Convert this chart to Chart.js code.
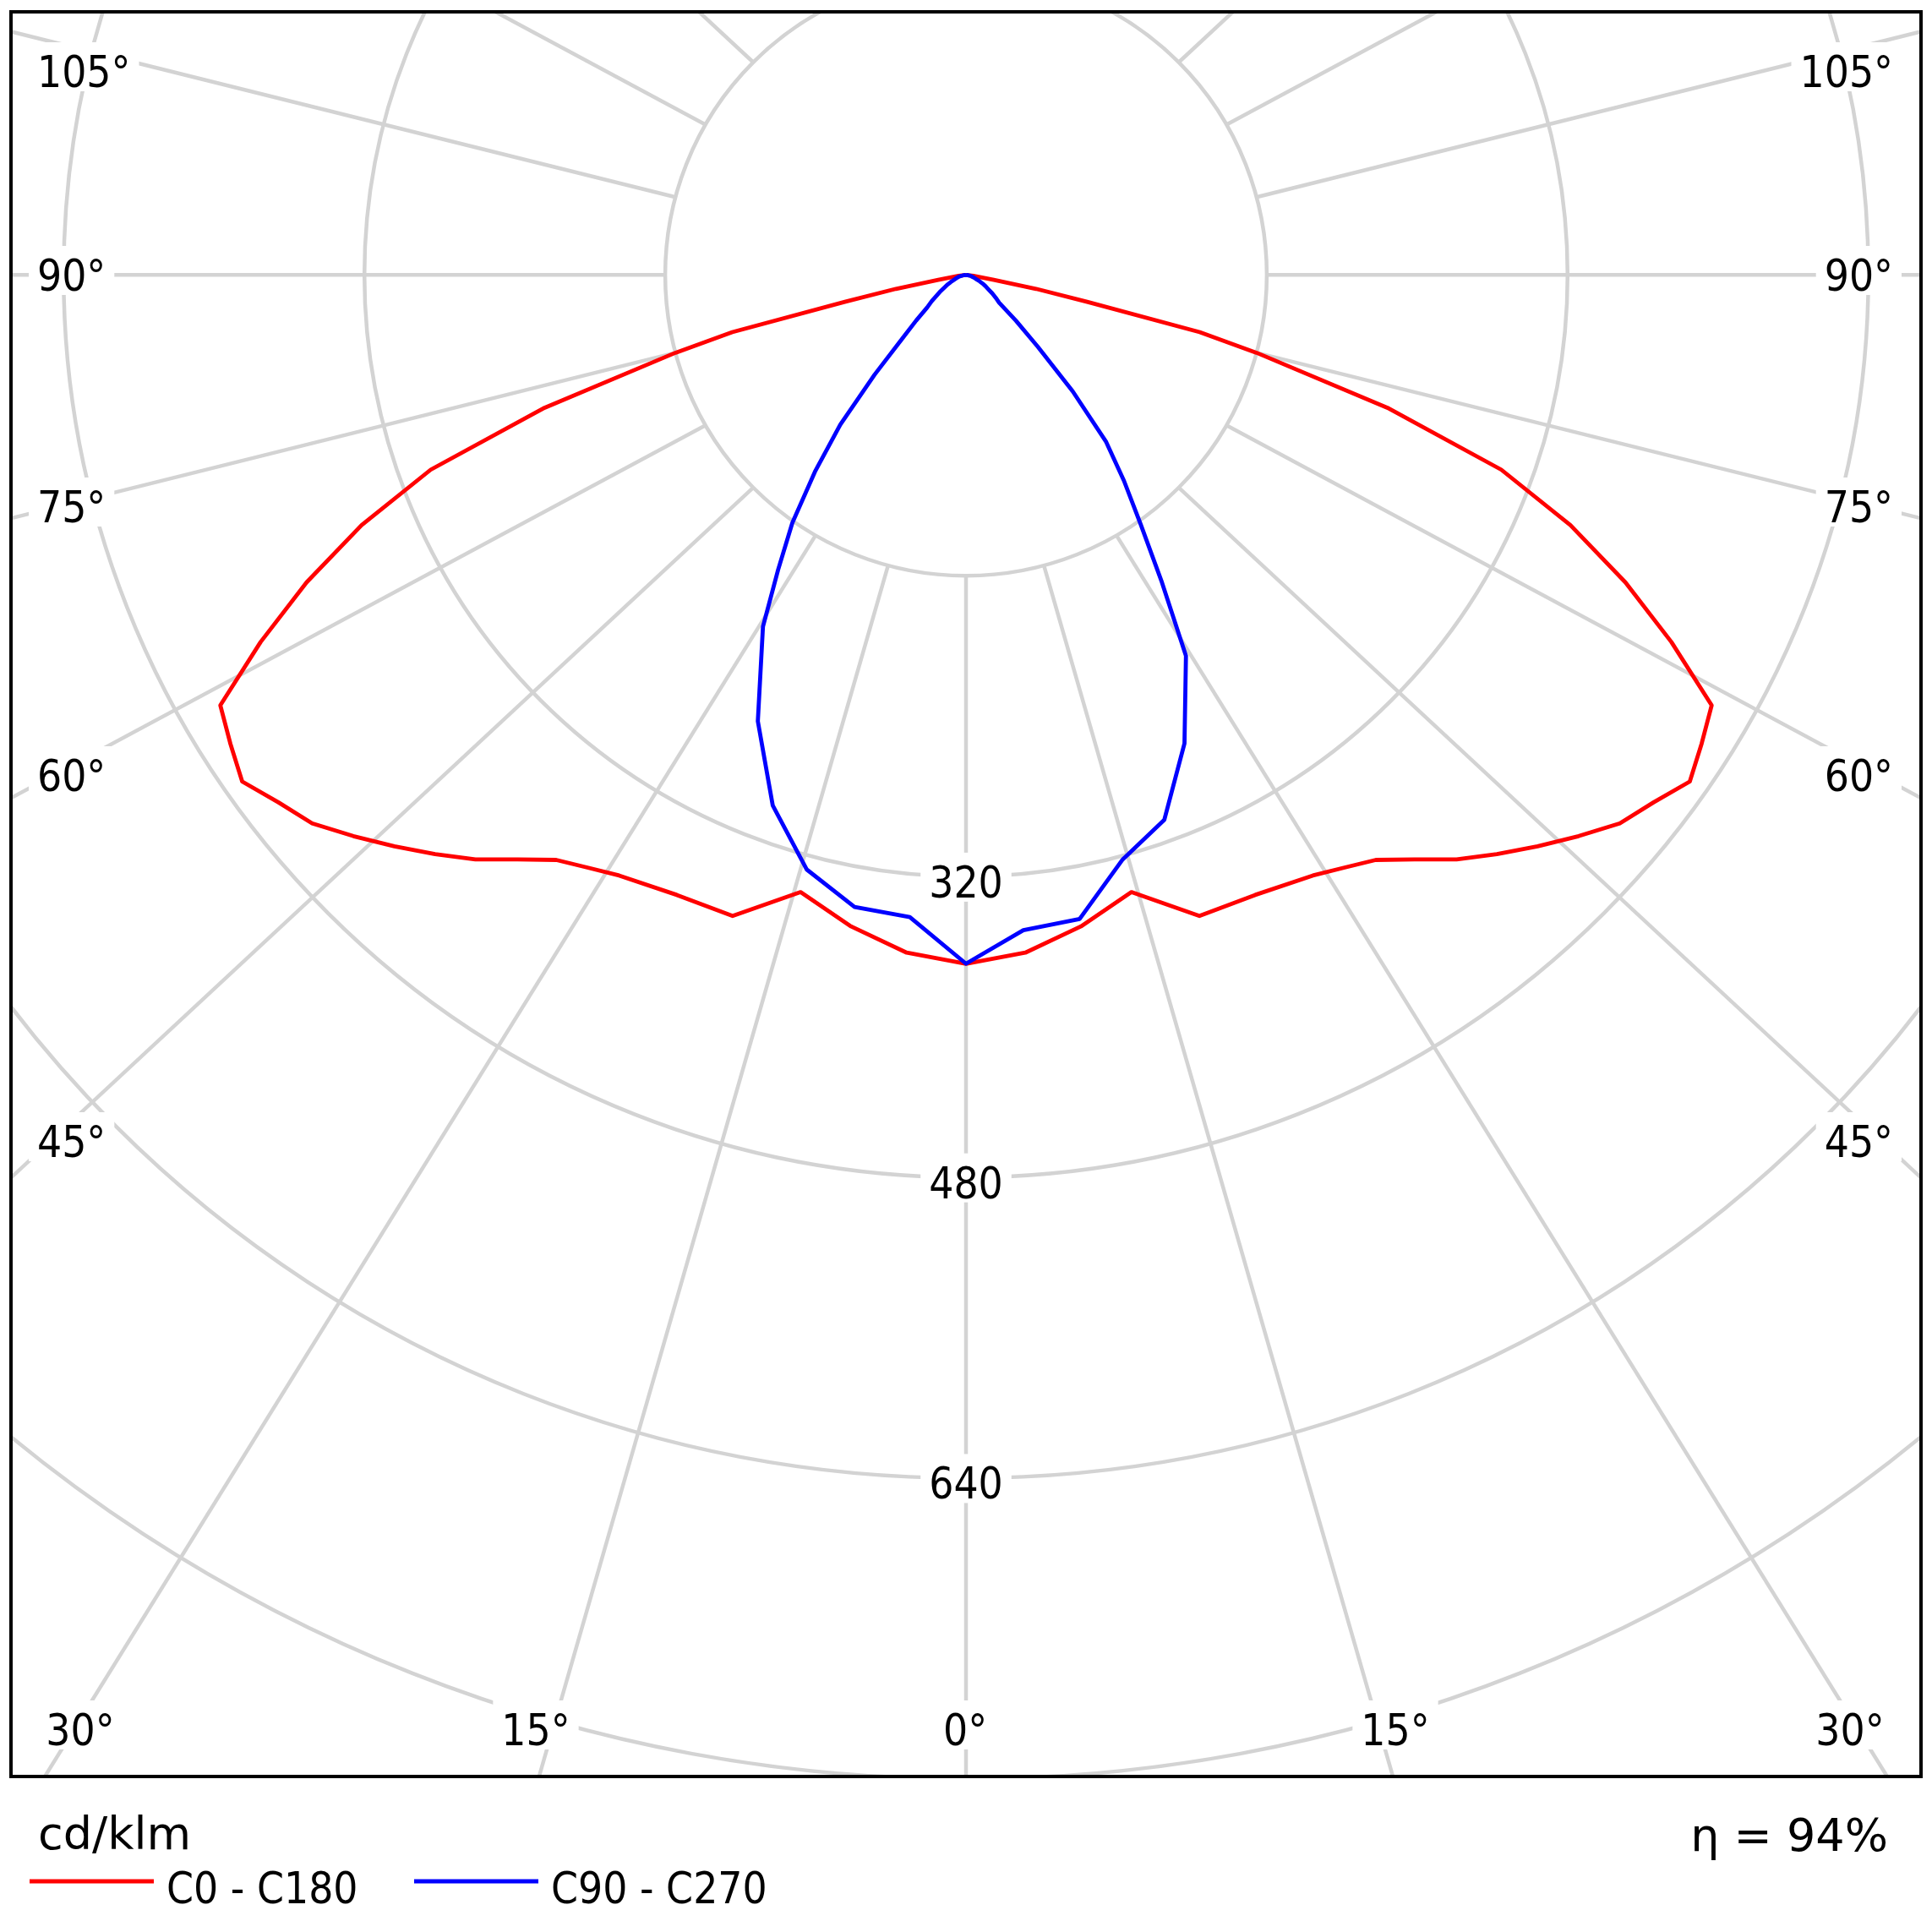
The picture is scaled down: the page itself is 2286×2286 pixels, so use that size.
<!DOCTYPE html>
<html>
<head>
<meta charset="utf-8">
<title>Luminous intensity distribution</title>
<script src="https://cdn.jsdelivr.net/npm/chart.js@4.4.1/dist/chart.umd.min.js"></script>
<style>
  html, body { margin: 0; padding: 0; background: #ffffff; }
  #polarChart { display: block; }
</style>
</head>
<body>
<canvas id="polarChart" width="2286" height="2286"></canvas>
<script>
// gamma angle from nadir (deg) and luminous intensity (cd/klm) per C-plane half
const gamma = [0, 5, 10, 15, 20, 25, 30, 32.5, 35, 37.5, 40, 42.5, 45, 47.5, 50, 52.5, 55, 57.5, 60, 62.5,
               65, 67.5, 70, 72.5, 75, 76.25, 77.5, 78.75, 80, 82.5, 85, 90];
const c0   = [366.5, 362, 352, 340, 363, 364, 369, 374, 380, 392, 406, 418, 430, 442, 454, 461, 470, 464, 458, 423,
              387, 348, 303, 235, 160, 128, 66, 38, 15, 4, 1, 0];
const c180 = [366.5, 362, 352, 340, 363, 364, 369, 374, 380, 392, 406, 418, 430, 442, 454, 461, 470, 464, 458, 423,
              387, 348, 303, 235, 160, 128, 66, 38, 15, 4, 1, 0];
const c90  = [366.5, 350, 348, 322, 308.5, 275, 234, 194, 162, 138, 116, 84, 54, 36, 23, 20, 17, 14, 12, 10,
              8, 6, 5, 4, 3, 3, 3, 2, 2, 1, 1, 0];
const c270 = [366.5, 343, 341.5, 327.5, 300.5, 262, 216, 186, 161, 132, 104, 72, 48, 36, 27, 23, 19, 16, 13, 11,
              9, 7, 6, 5, 4, 4, 3, 3, 2, 1.5, 1, 0];

// grid
const ringValues = [160, 320, 480, 640, 800];
const ringLabelValues = [320, 480, 640];
const rayAngles = [0, 15, 30, 45, 60, 75, 90, 105, 120, 135, 150, 165, 180];

const FONT_NARROW = '"DejaVu Sans Condensed", "DejaVu Sans", sans-serif';
const FONT_WIDE = '"DejaVu Sans", sans-serif';
const GRID_COLOR = '#d3d3d3';
const RAY_SQUASH = 0.93; // rays in the source lean slightly towards horizontal

// angle labels placed round the frame (canvas px)
const angleLabelLayout = [
    { text: '105°', x: 44,   y: 103,  align: 'left' },
    { text: '90°',  x: 44,   y: 344,  align: 'left' },
    { text: '75°',  x: 44,   y: 618,  align: 'left' },
    { text: '60°',  x: 44,   y: 936,  align: 'left' },
    { text: '45°',  x: 44,   y: 1369, align: 'left' },
    { text: '105°', x: 2240, y: 103,  align: 'right' },
    { text: '90°',  x: 2240, y: 344,  align: 'right' },
    { text: '75°',  x: 2240, y: 618,  align: 'right' },
    { text: '60°',  x: 2240, y: 936,  align: 'right' },
    { text: '45°',  x: 2240, y: 1369, align: 'right' },
    { text: '30°',  x: 95,   y: 2065, align: 'center' },
    { text: '15°',  x: 634,  y: 2065, align: 'center' },
    { text: '0°',   x: 1142, y: 2065, align: 'center' },
    { text: '15°',  x: 1651, y: 2065, align: 'center' },
    { text: '30°',  x: 2189, y: 2065, align: 'center' }
];

const toRad = d => d * Math.PI / 180;

// left half goes 90 -> 0, right half 0 -> 90
function buildCurve(leftValues, rightValues) {
    const pts = [];
    for (let i = gamma.length - 1; i >= 0; i--) {
        const g = toRad(gamma[i]);
        pts.push({ x: -leftValues[i] * Math.sin(g), y: -leftValues[i] * Math.cos(g) });
    }
    for (let i = 1; i < gamma.length; i++) {
        const g = toRad(gamma[i]);
        pts.push({ x: rightValues[i] * Math.sin(g), y: -rightValues[i] * Math.cos(g) });
    }
    return pts;
}

function labelWithBox(ctx, text, x, y, align, font) {
    ctx.font = font;
    const w = ctx.measureText(text).width;
    let left = x;
    if (align === 'center') left = x - w / 2;
    if (align === 'right') left = x - w;
    ctx.fillStyle = '#ffffff';
    ctx.fillRect(left - 10, y - 53, w + 20, 58);
    ctx.fillStyle = '#000000';
    ctx.textAlign = 'left';
    ctx.textBaseline = 'alphabetic';
    ctx.fillText(text, left, y);
}

const polarGrid = {
    id: 'polarGrid',
    beforeDatasetsDraw(chart) {
        const { ctx, chartArea, scales: { x, y } } = chart;
        const cx = x.getPixelForValue(0);
        const cy = y.getPixelForValue(0);
        ctx.save();
        ctx.beginPath();
        ctx.rect(chartArea.left, chartArea.top, chartArea.right - chartArea.left, chartArea.bottom - chartArea.top);
        ctx.clip();
        ctx.strokeStyle = GRID_COLOR;
        ctx.lineWidth = 4.5;

        ringValues.forEach(r => {
            ctx.beginPath();
            ctx.arc(cx, cy, x.getPixelForValue(r) - cx, 0, Math.PI * 2);
            ctx.stroke();
        });

        const inner = ringValues[0];
        rayAngles.forEach(a => {
            const g = toRad(a);
            [-1, 1].forEach(side => {
                if (a === 0 && side === -1) return;
                const sx = side * inner * Math.sin(g);
                const sy = -inner * Math.cos(g);
                const ex = sx + side * 3000 * Math.sin(g);
                const ey = sy - 3000 * RAY_SQUASH * Math.cos(g);
                ctx.beginPath();
                ctx.moveTo(x.getPixelForValue(sx), y.getPixelForValue(sy));
                ctx.lineTo(x.getPixelForValue(ex), y.getPixelForValue(ey));
                ctx.stroke();
            });
        });

        const narrow = '51px ' + FONT_NARROW;
        ringLabelValues.forEach(r => {
            labelWithBox(ctx, String(r), cx, y.getPixelForValue(-r) + 25, 'center', narrow);
        });
        angleLabelLayout.forEach(l => labelWithBox(ctx, l.text, l.x, l.y, l.align, narrow));
        ctx.restore();
    },
    afterDraw(chart) {
        const { ctx, chartArea } = chart;
        ctx.save();
        ctx.strokeStyle = '#000000';
        ctx.lineWidth = 4;
        ctx.strokeRect(chartArea.left, chartArea.top, chartArea.right - chartArea.left, chartArea.bottom - chartArea.top);

        ctx.fillStyle = '#000000';
        ctx.textBaseline = 'alphabetic';
        ctx.font = '54px ' + FONT_WIDE;
        ctx.textAlign = 'left';
        ctx.fillText('cd/klm', 45, 2188);
        ctx.textAlign = 'right';
        ctx.fillText('η = 94%', 2234, 2190);

        // legend
        ctx.font = '51px ' + FONT_NARROW;
        ctx.textAlign = 'left';
        chart.data.datasets.slice().reverse().forEach((ds, i) => {
            const x0 = i === 0 ? 35 : 490;
            ctx.strokeStyle = ds.borderColor;
            ctx.lineWidth = 5;
            ctx.beginPath();
            ctx.moveTo(x0, 2226);
            ctx.lineTo(x0 + 147, 2226);
            ctx.stroke();
            ctx.fillStyle = '#000000';
            ctx.fillText(ds.label, x0 + 162, 2252);
        });
        ctx.restore();
    }
};

new Chart(document.getElementById('polarChart'), {
    type: 'scatter',
    data: {
        datasets: [
            {
                label: 'C90 - C270',
                data: buildCurve(c270, c90),
                showLine: true,
                borderColor: '#0000ff',
                borderWidth: 4.8,
                borderJoinStyle: 'round',
                pointRadius: 0,
                tension: 0
            },
            {
                label: 'C0 - C180',
                data: buildCurve(c180, c0),
                showLine: true,
                borderColor: '#ff0000',
                borderWidth: 4.8,
                borderJoinStyle: 'round',
                pointRadius: 0,
                tension: 0
            }
        ]
    },
    options: {
        responsive: false,
        devicePixelRatio: 1,
        animation: false,
        layout: { padding: { left: 13, right: 13, top: 14, bottom: 184 } },
        scales: {
            x: { type: 'linear', min: -508, max: 508, display: false },
            y: { type: 'linear', min: -799, max: 140, display: false }
        },
        plugins: {
            legend: { display: false },
            tooltip: { enabled: false }
        }
    },
    plugins: [polarGrid]
});
</script>
</body>
</html>
